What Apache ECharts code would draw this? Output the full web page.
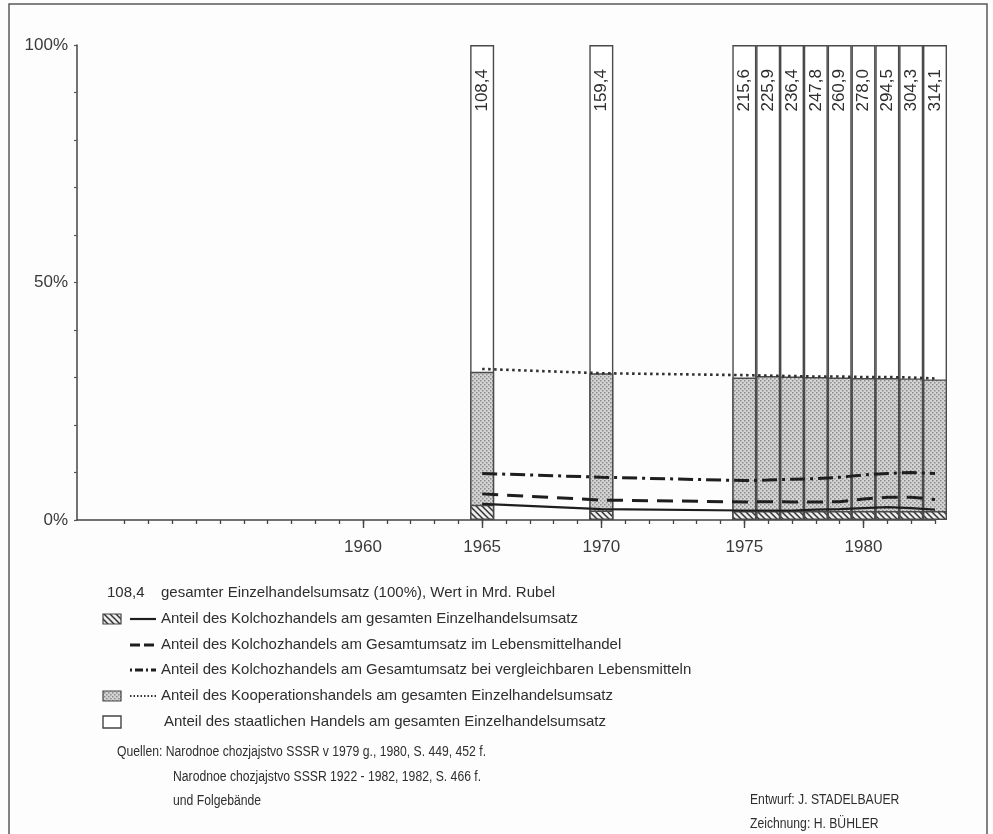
<!DOCTYPE html>
<html>
<head>
<meta charset="utf-8">
<script src="https://cdn.jsdelivr.net/npm/echarts@6/dist/echarts.min.js"></script>
<style>
html,body{margin:0;padding:0;background:#fdfdfd;}
#chart{width:993px;height:834px;}
</style>
</head>
<body>
<div id="chart"></div>
<script>
// ---- axis slots (tick positions of the original drawing; note the extra slot before 1975) ----
const axisSlots = ['1948','1949','1950','1951','1952','1953','1954','1955','1956','1957','1958','1959',
  '1960','1961','1962','1963','1964','1965','1966','1967','1968','1969','1970',
  '1971','1972','1973','1974','','1975','1976','1977','1978','1979','1980','1981','1982','1983'];
const labelYears = ['1960','1965','1970','1975','1980'];
const yTickLabels = [0, 50, 100];

// ---- data ----
const years = ['1965','1970','1975','1976','1977','1978','1979','1980','1981','1982','1983'];
const totalTurnover = [108.4, 159.4, 215.6, 225.9, 236.4, 247.8, 260.9, 278.0, 294.5, 304.3, 314.1];
const stateShareTop = [100, 100, 100, 100, 100, 100, 100, 100, 100, 100, 100];
const coopBarTop = [31.2, 30.9, 30.0, 30.3, 30.2, 30.1, 30.0, 29.9, 29.9, 29.8, 29.6];
const kolchozBarTop = [3.2, 2.0, 1.9, 1.9, 1.9, 1.9, 1.9, 1.9, 1.9, 1.9, 1.9];
const kolchozShare = [3.4, 2.3, 2.0, 2.0, 2.0, 2.2, 2.3, 2.5, 2.7, 2.5, 2.2];
const kolchozFoodShare = [5.5, 4.2, 3.8, 3.85, 3.8, 3.8, 3.85, 4.4, 4.8, 4.8, 4.3];
const kolchozComparableShare = [9.8, 9.0, 8.3, 8.4, 8.6, 8.7, 9.0, 9.5, 9.8, 10.0, 9.8];
const coopShare = [31.8, 30.9, 30.5, 30.4, 30.3, 30.2, 30.2, 30.1, 30.1, 30.0, 29.8];

const FONT = '"Liberation Sans", Arial, Helvetica, sans-serif';
const INK = '#2e2e2e';

// ---- patterns ----
function hatchCanvas() {
  const c = document.createElement('canvas');
  c.width = 6; c.height = 6;
  const g = c.getContext('2d');
  g.fillStyle = '#eeeeee'; g.fillRect(0,0,6,6);
  g.strokeStyle = '#333'; g.lineWidth = 1.5;
  g.beginPath();
  g.moveTo(-1,-1); g.lineTo(7,7);
  g.moveTo(-4,2); g.lineTo(1,7);
  g.moveTo(2,-4); g.lineTo(7,1);
  g.stroke();
  return c;
}
function stippleCanvas() {
  const c = document.createElement('canvas');
  c.width = 4; c.height = 4;
  const g = c.getContext('2d');
  g.fillStyle = '#d4d4d4'; g.fillRect(0,0,4,4);
  g.fillStyle = '#8a8a8a';
  g.fillRect(0,0,1.5,1.5); g.fillRect(2,2,1.5,1.5);
  return c;
}
const hatch = {image: hatchCanvas(), repeat: 'repeat'};
const stipple = {image: stippleCanvas(), repeat: 'repeat'};

const pairs = arr => years.map((y, i) => [y, arr[i]]);

const chart = echarts.init(document.getElementById('chart'), null, {renderer: 'canvas'});

const lineBase = {type: 'line', xAxisIndex: 0, symbol: 'none', z: 5, silent: true, smooth: false};

// legend graphics
const lx0 = 103, lineX1 = 130, lineX2 = 156, tx = 161;
const rows = [593, 619, 645, 670, 696, 722];
const legendTexts = [
  'gesamter Einzelhandelsumsatz (100%), Wert in Mrd. Rubel',
  'Anteil des Kolchozhandels am gesamten Einzelhandelsumsatz',
  'Anteil des Kolchozhandels am Gesamtumsatz im Lebensmittelhandel',
  'Anteil des Kolchozhandels am Gesamtumsatz bei vergleichbaren Lebensmitteln',
  'Anteil des Kooperationshandels am gesamten Einzelhandelsumsatz',
  'Anteil des staatlichen Handels am gesamten Einzelhandelsumsatz'
];
const graphics = [];
graphics.push({type:'rect', shape:{x:9, y:4, width:978, height:850}, style:{fill:'none', stroke:'#5a5a5a', lineWidth:1.5}, silent:true});
graphics.push({type:'text', x:107, y:rows[0], style:{text:'108,4', font:'15px '+FONT, fill:INK, verticalAlign:'middle'}});
legendTexts.forEach((t, i) => {
  graphics.push({type:'text', x: i === 5 ? tx + 3 : tx, y: rows[i], style:{text:t, font:'15px '+FONT, fill:INK, verticalAlign:'middle'}});
});
graphics.push({type:'rect', shape:{x:lx0, y:rows[1]-5, width:18, height:10}, style:{fill:hatch, stroke:'#444', lineWidth:1.2}});
graphics.push({type:'line', shape:{x1:lineX1, y1:rows[1], x2:lineX2, y2:rows[1]}, style:{stroke:'#1e1e1e', lineWidth:2.2}});
graphics.push({type:'line', shape:{x1:lineX1, y1:rows[2], x2:lineX2, y2:rows[2]}, style:{stroke:'#1e1e1e', lineWidth:3, lineDash:[10,4]}});
graphics.push({type:'line', shape:{x1:lineX1, y1:rows[3], x2:lineX2, y2:rows[3]}, style:{stroke:'#1e1e1e', lineWidth:3, lineDash:[2,3,8,3]}});
graphics.push({type:'rect', shape:{x:lx0, y:rows[4]-5, width:18, height:10}, style:{fill:stipple, stroke:'#444', lineWidth:1.2}});
graphics.push({type:'line', shape:{x1:lineX1, y1:rows[4], x2:lineX2, y2:rows[4]}, style:{stroke:'#333', lineWidth:2, lineDash:[1.5,2]}});
graphics.push({type:'rect', shape:{x:lx0, y:rows[5]-6, width:18, height:12}, style:{fill:'#fff', stroke:'#444', lineWidth:1.4}});
// sources and credits (condensed lettering)
const credit = (text, x, y) => ({type:'text', x:x, y:y, scaleX:0.87,
  style:{text:text, font:'14px '+FONT, fill:INK, verticalAlign:'middle'}});
graphics.push(credit('Quellen: Narodnoe chozjajstvo SSSR v 1979 g., 1980, S. 449, 452 f.', 117, 752));
graphics.push(credit('Narodnoe chozjajstvo SSSR 1922 - 1982, 1982, S. 466 f.', 173, 777));
graphics.push(credit('und Folgebände', 173, 801));
graphics.push(credit('Entwurf: J. STADELBAUER', 750, 800));
graphics.push(credit('Zeichnung: H. BÜHLER', 750, 824));

const option = {
  backgroundColor: '#fdfdfd',
  animation: false,
  grid: {left: 77, right: 58, top: 45, bottom: 314, containLabel: false},
  xAxis: [
    {
      type: 'category', data: axisSlots, boundaryGap: false, position: 'bottom',
      axisLine: {show: true, lineStyle: {color: '#444', width: 1.5}},
      axisTick: {show: true, length: 4, inside: false, lineStyle: {color: '#444', width: 1.3},
        interval: (idx) => idx >= 2},
      axisLabel: {show: true, interval: (idx, val) => labelYears.indexOf(val) >= 0,
        margin: 19, fontSize: 17, fontFamily: FONT, color: '#3a3a3a'},
      splitLine: {show: false}
    },
    {
      type: 'category', data: axisSlots, boundaryGap: false, position: 'bottom', offset: 0,
      axisLine: {show: false},
      axisTick: {show: true, length: 8, lineStyle: {color: '#444', width: 1.4},
        interval: (idx, val) => labelYears.indexOf(val) >= 0},
      axisLabel: {show: false},
      splitLine: {show: false}
    }
  ],
  yAxis: {
    type: 'value', min: 0, max: 100, interval: 10,
    axisLine: {show: true, lineStyle: {color: '#444', width: 1.5}},
    axisTick: {show: true, length: 3, lineStyle: {color: '#555', width: 1.2}},
    axisLabel: {margin: 9, fontSize: 17, fontFamily: FONT, color: '#3a3a3a',
      formatter: v => yTickLabels.indexOf(v) >= 0 ? v + '%' : ''},
    splitLine: {show: false}
  },
  graphic: graphics,
  series: [
    {
      name: 'staatlich', type: 'bar', xAxisIndex: 0, barWidth: 24, barGap: '-100%', z: 2, silent: true,
      data: pairs(stateShareTop),
      itemStyle: {color: '#ffffff', borderColor: '#4a4a4a', borderWidth: 1.4},
      label: {show: true, position: 'insideTop', distance: 24, rotate: 90, align: 'right', verticalAlign: 'middle',
        fontSize: 17, fontFamily: FONT, color: INK,
        formatter: p => totalTurnover[p.dataIndex].toFixed(1).replace('.', ',')}
    },
    {
      name: 'Kooperation', type: 'bar', xAxisIndex: 0, barWidth: 24, barGap: '-100%', z: 3, silent: true,
      data: pairs(coopBarTop),
      itemStyle: {color: stipple, borderColor: '#4a4a4a', borderWidth: 1.4}
    },
    {
      name: 'Kolchoz', type: 'bar', xAxisIndex: 0, barWidth: 24, barGap: '-100%', z: 4, silent: true,
      data: pairs(kolchozBarTop),
      itemStyle: {color: hatch, borderColor: '#4a4a4a', borderWidth: 1.4}
    },
    Object.assign({}, lineBase, {name: 'Kolchoz gesamt', data: pairs(kolchozShare),
      lineStyle: {color: '#1e1e1e', width: 2.2, type: 'solid'}}),
    Object.assign({}, lineBase, {name: 'Kolchoz Lebensmittel', data: pairs(kolchozFoodShare),
      lineStyle: {color: '#1e1e1e', width: 3, type: [16, 9]}}),
    Object.assign({}, lineBase, {name: 'Kolchoz vergleichbar', data: pairs(kolchozComparableShare),
      lineStyle: {color: '#1e1e1e', width: 3, type: [15, 5, 3, 5]}}),
    Object.assign({}, lineBase, {name: 'Kooperation Linie', data: pairs(coopShare),
      lineStyle: {color: '#2e2e2e', width: 2.6, type: [2.5, 3.5]}})
  ]
};
chart.setOption(option);
</script>
</body>
</html>
